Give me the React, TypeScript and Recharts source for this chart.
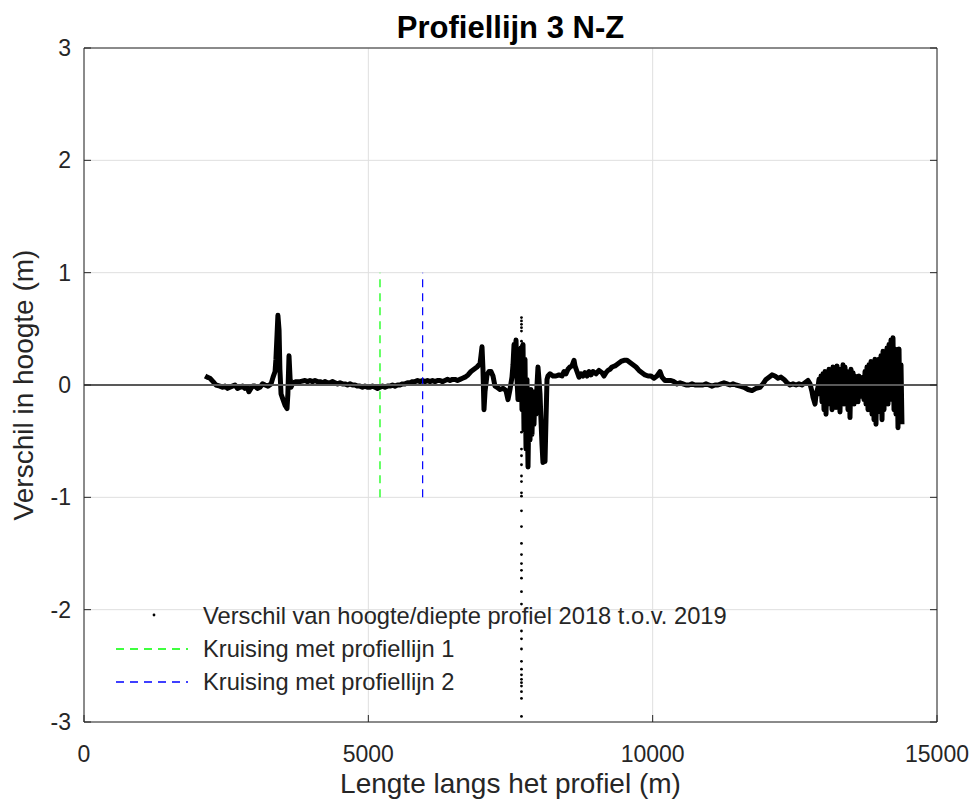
import React from "react";
import {
  ComposedChart,
  Line,
  Scatter,
  XAxis,
  YAxis,
  CartesianGrid,
  ReferenceLine,
  Legend,
} from "recharts";

// afstand langs het profiel (m), hoogteverschil 2018 t.o.v. 2019 (m)
const westDeel: [number, number][] = [
  [2130, 0.08], [2165, 0.07], [2215, 0.06], [2270, 0.03], [2320, 0.0], [2390, -0.01],
  [2435, -0.02], [2480, -0.01], [2525, -0.03], [2565, -0.02], [2610, -0.01], [2655, 0.0],
  [2700, -0.03], [2745, -0.02], [2790, -0.01], [2830, -0.03], [2870, -0.02], [2900, -0.06],
  [2935, -0.03], [2970, -0.01], [3005, -0.01], [3050, -0.03], [3095, -0.02], [3140, 0.01],
  [3185, 0.0], [3235, -0.01], [3290, 0.01], [3325, 0.07], [3360, 0.12], [3375, 0.23],
  [3395, 0.45], [3410, 0.62], [3430, 0.49], [3445, 0.14], [3465, -0.08], [3500, -0.13],
  [3535, -0.18], [3570, -0.21], [3585, -0.08], [3605, 0.26], [3625, 0.05], [3640, -0.02],
  [3675, 0.02], [3730, 0.03], [3800, 0.03],
];

const middenDeel: [number, number][] = [
  [3886, 0.04], [3930, 0.03], [3974, 0.04], [4018, 0.03], [4062, 0.04], [4106, 0.03],
  [4150, 0.03], [4194, 0.02], [4238, 0.03], [4282, 0.02], [4326, 0.02], [4370, 0.03],
  [4414, 0.02], [4458, 0.01], [4502, 0.02], [4546, 0.01], [4590, 0.01], [4634, 0.0],
  [4678, 0.01], [4722, 0.0], [4766, 0.0], [4810, -0.01], [4853, -0.01], [4897, -0.02],
  [4941, -0.01], [4985, -0.02], [5029, -0.02], [5073, -0.01], [5117, -0.02], [5161, -0.03],
  [5205, -0.02], [5249, -0.01], [5293, -0.02], [5337, -0.01], [5381, -0.01], [5425, 0.0],
  [5469, -0.01], [5513, 0.0], [5557, 0.0], [5601, 0.01], [5645, 0.01], [5689, 0.02],
  [5733, 0.02], [5777, 0.03], [5821, 0.03], [5865, 0.04], [5909, 0.03], [5952, 0.04],
  [5996, 0.03], [6040, 0.04], [6084, 0.03], [6128, 0.04], [6172, 0.03], [6216, 0.04],
  [6260, 0.04], [6304, 0.03], [6348, 0.04], [6392, 0.05], [6436, 0.04], [6480, 0.05],
  [6524, 0.05], [6568, 0.04], [6612, 0.05], [6656, 0.06], [6700, 0.07], [6753, 0.09],
  [6805, 0.12], [6858, 0.14], [6911, 0.16], [6964, 0.19],
];

const geulDeel: [number, number][] = [
  [6981, 0.26], [6999, 0.34], [7016, 0.14], [7034, -0.22], [7052, -0.06], [7087, 0.09],
  [7122, 0.12], [7157, 0.12], [7192, 0.08], [7227, -0.01], [7263, -0.02], [7315, -0.04],
  [7368, -0.03], [7421, -0.05], [7456, -0.13], [7491, -0.04], [7526, 0.07], [7544, 0.18],
  [7562, 0.36], [7579, 0.23], [7597, 0.4], [7614, 0.05], [7632, -0.13], [7649, 0.23],
  [7667, -0.08], [7685, 0.33], [7702, -0.22], [7720, 0.36], [7737, -0.4], [7755, 0.23],
  [7773, -0.57], [7790, 0.05], [7808, -0.73], [7825, -0.13], [7843, -0.49], [7860, -0.04],
  [7878, -0.44], [7896, -0.08], [7913, -0.35], [7931, -0.06], [7948, -0.26], [7966, 0.0],
  [7983, 0.16], [8001, 0.05], [8019, -0.08], [8036, -0.31], [8054, -0.53], [8071, -0.69],
  [8089, -0.49], [8107, -0.68], [8124, -0.31], [8142, 0.05], [8159, 0.08],
];

const oostDeel: [number, number][] = [
  [8195, 0.1], [8247, 0.08], [8300, 0.08], [8353, 0.09], [8406, 0.08], [8441, 0.12],
  [8476, 0.1], [8511, 0.14], [8546, 0.16], [8581, 0.17], [8617, 0.22], [8634, 0.17],
  [8669, 0.12], [8705, 0.07], [8740, 0.1], [8775, 0.08], [8810, 0.11], [8845, 0.08],
  [8880, 0.12], [8916, 0.09], [8951, 0.12], [9004, 0.1], [9056, 0.13], [9109, 0.11],
  [9144, 0.08], [9179, 0.11], [9215, 0.13], [9250, 0.14], [9285, 0.16], [9338, 0.17],
  [9390, 0.19], [9443, 0.21], [9496, 0.22], [9549, 0.22], [9601, 0.2], [9654, 0.18],
  [9707, 0.16], [9760, 0.13], [9812, 0.11], [9865, 0.09], [9918, 0.08], [9971, 0.08],
  [10023, 0.06], [10076, 0.08], [10129, 0.12], [10164, 0.07], [10217, 0.04], [10270, 0.04],
  [10322, 0.04], [10375, 0.03], [10428, 0.01], [10481, 0.02], [10533, 0.01], [10586, 0.0],
  [10639, 0.0], [10692, 0.01], [10744, 0.0], [10797, 0.0], [10832, 0.0], [10885, 0.0],
  [10938, 0.01], [10991, 0.0], [11043, -0.01], [11096, 0.0], [11149, 0.0], [11202, 0.01],
  [11254, 0.02], [11307, 0.01], [11360, 0.0], [11413, 0.01], [11465, 0.0], [11536, -0.01],
  [11606, -0.02], [11677, -0.04], [11747, -0.05], [11817, -0.03], [11888, -0.02], [11940, 0.01],
  [11993, 0.05], [12046, 0.07], [12098, 0.09], [12151, 0.08], [12204, 0.06], [12257, 0.07],
  [12310, 0.05], [12362, 0.02], [12415, 0.0], [12468, 0.01], [12521, 0.0], [12573, 0.01],
  [12626, 0.0], [12679, 0.02], [12731, 0.04], [12767, 0.01], [12802, -0.06], [12820, -0.11],
  [12855, -0.17], [12872, -0.09], [12907, -0.02],
];

const ruisDeel: [number, number][] = [
  [12925, 0.05], [12943, -0.08], [12960, 0.08], [12978, -0.15], [12995, 0.1], [13013, -0.22],
  [13031, 0.12], [13048, -0.26], [13066, 0.07], [13083, -0.13], [13101, 0.14], [13118, -0.17],
  [13136, 0.11], [13154, -0.22], [13171, 0.16], [13189, -0.11], [13206, 0.13], [13224, -0.2],
  [13242, 0.17], [13259, -0.08], [13277, 0.12], [13294, -0.24], [13312, 0.14], [13330, -0.13],
  [13347, 0.18], [13365, -0.17], [13382, 0.16], [13400, -0.06], [13417, 0.12], [13435, -0.22],
  [13453, 0.1], [13470, -0.29], [13488, 0.14], [13505, -0.11], [13523, 0.11], [13541, -0.17],
  [13558, 0.08], [13576, -0.08], [13593, 0.07], [13611, -0.15], [13628, 0.08], [13646, -0.1],
  [13664, 0.05], [13681, -0.06], [13699, 0.07], [13716, -0.13], [13734, 0.12], [13752, -0.17],
  [13769, 0.16], [13787, -0.22], [13804, 0.18], [13822, -0.2], [13840, 0.21], [13857, -0.26],
  [13875, 0.17], [13892, -0.31], [13910, 0.23], [13927, -0.35], [13945, 0.19], [13963, -0.24],
  [13980, 0.23], [13998, -0.17], [14015, 0.26], [14033, -0.31], [14051, 0.3], [14068, -0.22],
  [14086, 0.23], [14103, -0.11], [14121, 0.33], [14138, -0.17], [14156, 0.36], [14174, -0.13],
  [14191, 0.4], [14209, -0.08], [14226, 0.42], [14244, -0.22], [14262, 0.32], [14279, -0.26],
  [14297, 0.24], [14314, -0.38], [14332, 0.32], [14349, -0.31], [14367, 0.18], [14384, -0.35],
];

// losse punten in de kolom bij ca. 7690 m
const uitschieterX = 7693;
const uitschieterY = [
  0.6, 0.57, 0.54, 0.51, 0.48, 0.39, 0.35, -0.42, -0.57, -0.63, -0.71, -0.81, -0.86, -0.96,
  -0.99, -1.12, -1.26, -1.41, -1.51, -1.59, -1.65, -1.72, -1.84, -1.95, -2.19, -2.26, -2.35,
  -2.46, -2.53, -2.58, -2.62, -2.65, -2.68, -2.73, -2.79, -2.95,
];

// kruisingen met de andere profiellijnen
const kruising1X = 5205;
const kruising2X = 5955;
const kruisingBereik = [-1, 1];

const xTicks = [0, 5000, 10000, 15000];
const yTicks = [-3, -2, -1, 0, 1, 2, 3];

const legendItems = [
  { name: "Verschil van hoogte/diepte profiel 2018 t.o.v. 2019", color: "#000000", type: "dot" },
  { name: "Kruising met profiellijn 1", color: "#00ff00", type: "dash" },
  { name: "Kruising met profiellijn 2", color: "#0000ff", type: "dash" },
];

const profiel = [...westDeel, ...middenDeel, ...geulDeel, ...oostDeel, ...ruisDeel].map(
  ([x, y]) => ({ x, y })
);
const uitschieters = uitschieterY.map((y) => ({ x: uitschieterX, y }));
const kruising1 = kruisingBereik.map((y) => ({ x: kruising1X, y }));
const kruising2 = kruisingBereik.map((y) => ({ x: kruising2X, y }));

const INK = "#262626";
const FONT = '"Liberation Sans", Arial, Helvetica, sans-serif';
const TICK_LEN = 7;

const BottomTick = ({ x, y, payload }: any) => (
  <g>
    <line x1={x} y1={y} x2={x} y2={y - TICK_LEN} stroke={INK} />
    <text x={x} y={y + 40} textAnchor="middle" fontSize={23} fill={INK} fontFamily={FONT}>
      {payload.value}
    </text>
  </g>
);

const TopTick = ({ x, y }: any) => <line x1={x} y1={y} x2={x} y2={y + TICK_LEN} stroke={INK} />;

const LeftTick = ({ x, y, payload }: any) => (
  <g>
    <line x1={x} y1={y} x2={x + TICK_LEN} y2={y} stroke={INK} />
    <text x={x - 13} y={y + 8} textAnchor="end" fontSize={23} fill={INK} fontFamily={FONT}>
      {payload.value}
    </text>
  </g>
);

const RightTick = ({ x, y }: any) => <line x1={x} y1={y} x2={x - TICK_LEN} y2={y} stroke={INK} />;

const Dot = ({ cx, cy }: any) => <circle cx={cx} cy={cy} r={1.4} fill="#000" />;

const LegendBox = () => (
  <div style={{ fontFamily: FONT, fontSize: 23.7, color: INK }}>
    {legendItems.map((item) => (
      <div key={item.name} style={{ display: "flex", alignItems: "center", height: 33 }}>
        <svg width={72} height={33} style={{ marginRight: 15 }}>
          {item.type === "dot" ? (
            <circle cx={38} cy={15} r={1.4} fill={item.color} />
          ) : (
            <line x1={0} y1={16} x2={72} y2={16} stroke={item.color} strokeWidth={1.5} strokeDasharray="8 6" />
          )}
        </svg>
        <span style={{ whiteSpace: "nowrap" }}>{item.name}</span>
      </div>
    ))}
  </div>
);

export default function App() {
  return (
    <div style={{ position: "absolute", left: 0, top: 0, background: "#fff" }}>
      <ComposedChart
        width={976}
        height={803}
        margin={{ top: 38, right: 29, bottom: 51, left: 54 }}
        style={{ fontFamily: FONT }}
      >
        <CartesianGrid stroke="#dfdfdf" strokeWidth={1} />
        <XAxis
          dataKey="x"
          type="number"
          domain={[0, 15000]}
          ticks={xTicks}
          interval={0}
          allowDataOverflow
          height={30}
          tickSize={0}
          tickMargin={0}
          tickLine={false}
          axisLine={{ stroke: INK }}
          tick={<BottomTick />}
          label={{
            value: "Lengte langs het profiel (m)",
            position: "bottom",
            offset: 21,
            style: { fontSize: 28, fill: INK, fontFamily: FONT },
          }}
        />
        <XAxis
          xAxisId="top"
          orientation="top"
          type="number"
          domain={[0, 15000]}
          ticks={xTicks}
          interval={0}
          allowDataOverflow
          height={10}
          tickSize={0}
          tickMargin={0}
          tickLine={false}
          axisLine={{ stroke: INK }}
          tick={<TopTick />}
          label={{
            value: "Profiellijn 3 N-Z",
            position: "top",
            offset: 0,
            style: { fontSize: 31, fontWeight: "bold", fill: "#000", fontFamily: FONT },
          }}
        />
        <YAxis
          type="number"
          domain={[-3, 3]}
          ticks={yTicks}
          interval={0}
          allowDataOverflow
          width={30}
          tickSize={0}
          tickMargin={0}
          tickLine={false}
          axisLine={{ stroke: INK }}
          tick={<LeftTick />}
          label={{
            value: "Verschil in hoogte (m)",
            position: "left",
            angle: -90,
            offset: 31,
            style: { fontSize: 28, fill: INK, fontFamily: FONT, textAnchor: "middle" },
          }}
        />
        <YAxis
          yAxisId="right"
          orientation="right"
          type="number"
          domain={[-3, 3]}
          ticks={yTicks}
          interval={0}
          allowDataOverflow
          width={10}
          tickSize={0}
          tickMargin={0}
          tickLine={false}
          axisLine={{ stroke: INK }}
          tick={<RightTick />}
        />
        <Line
          data={profiel}
          dataKey="y"
          name="Verschil van hoogte/diepte profiel 2018 t.o.v. 2019"
          type="linear"
          stroke="#000"
          strokeWidth={5}
          strokeLinejoin="round"
          dot={false}
          activeDot={false}
          isAnimationActive={false}
        />
        <Scatter
          data={uitschieters}
          dataKey="y"
          shape={<Dot />}
          legendType="none"
          isAnimationActive={false}
        />
        <Line
          data={kruising1}
          dataKey="y"
          name="Kruising met profiellijn 1"
          stroke="#00ff00"
          strokeWidth={1.2}
          strokeDasharray="8 6"
          dot={false}
          activeDot={false}
          isAnimationActive={false}
        />
        <Line
          data={kruising2}
          dataKey="y"
          name="Kruising met profiellijn 2"
          stroke="#0000ff"
          strokeWidth={1.2}
          strokeDasharray="8 6"
          dot={false}
          activeDot={false}
          isAnimationActive={false}
        />
        <ReferenceLine y={0} stroke="#595959" strokeWidth={2.2} />
        <Legend
          layout="horizontal"
          verticalAlign="middle"
          align="center"
          content={() => <LegendBox />}
          wrapperStyle={{ left: 116, top: 600, width: "auto", height: "auto" }}
        />
      </ComposedChart>
    </div>
  );
}
